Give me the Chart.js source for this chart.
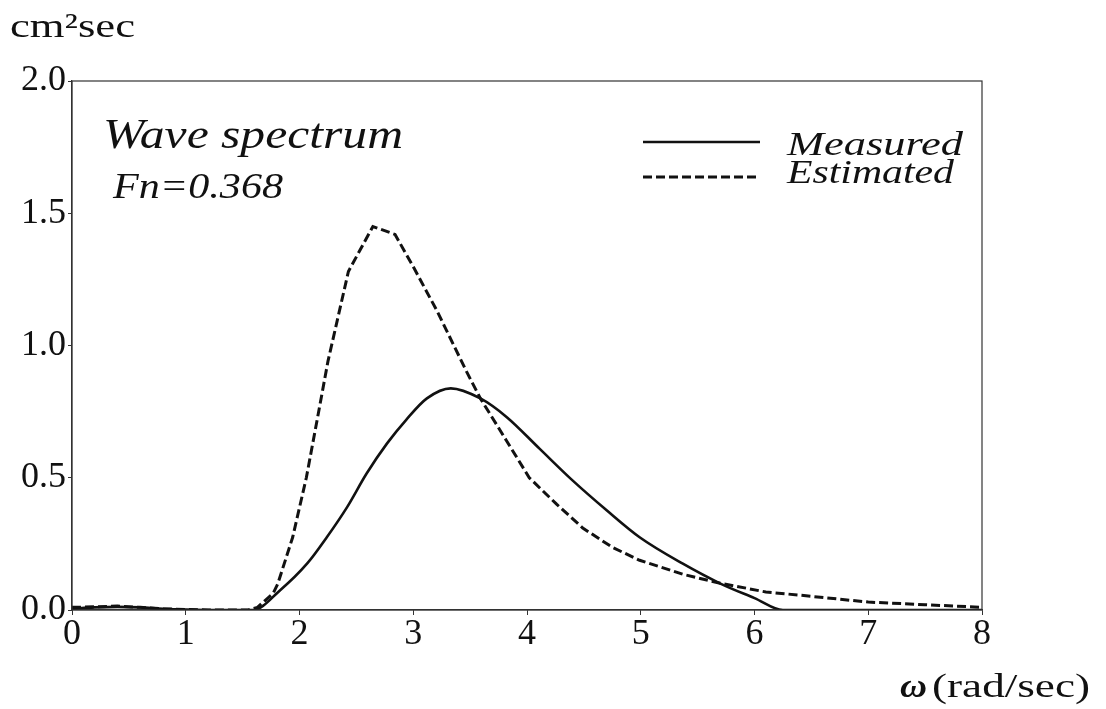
<!DOCTYPE html>
<html>
<head>
<meta charset="utf-8">
<script src="https://cdn.jsdelivr.net/npm/chart.js@4/dist/chart.umd.min.js"></script>
<style>
  html, body { margin: 0; padding: 0; background: #fff; }
  #wrap { width: 1106px; height: 709px; position: relative; }
</style>
</head>
<body>
<div id="wrap"><canvas id="c" width="1106" height="709"></canvas></div>
<script>
// ---- data ----
const xTicks = [0, 1, 2, 3, 4, 5, 6, 7, 8];
const yTicks = [0.0, 0.5, 1.0, 1.5, 2.0];

const measuredX = [0, 0.2, 0.4, 0.6, 0.8, 1.0, 1.3, 1.59, 1.83, 2.07, 2.24, 2.42, 2.59, 2.77, 2.94, 3.12, 3.33, 3.59, 3.82, 4.11, 4.40, 4.70, 4.99, 5.37, 5.70, 6.0, 6.25, 7.0, 8.0];
const measuredY = [0.005, 0.01, 0.012, 0.01, 0.005, 0.002, 0.0, 0.0, 0.075, 0.177, 0.275, 0.39, 0.516, 0.63, 0.72, 0.80, 0.838, 0.80, 0.73, 0.61, 0.49, 0.377, 0.275, 0.175, 0.10, 0.045, 0.0, 0.0, 0.0];

const estimatedX = [0, 0.2, 0.4, 0.6, 0.8, 1.0, 1.2, 1.55, 1.63, 1.77, 1.81, 1.94, 2.06, 2.16, 2.25, 2.43, 2.645, 2.84, 3.01, 3.21, 3.47, 3.59, 3.82, 4.02, 4.26, 4.49, 4.75, 4.99, 5.37, 5.67, 6.1, 6.4, 7.0, 7.5, 8.0];
const estimatedY = [0.01, 0.012, 0.015, 0.01, 0.005, 0.002, 0.0, 0.0, 0.01, 0.064, 0.10, 0.275, 0.50, 0.73, 0.94, 1.28, 1.45, 1.42, 1.29, 1.13, 0.90, 0.80, 0.64, 0.50, 0.40, 0.31, 0.237, 0.188, 0.135, 0.104, 0.068, 0.056, 0.03, 0.02, 0.01];

const seriesNames = ['Measured', 'Estimated'];
const titleText = 'Wave spectrum';
const subtitleText = 'Fn=0.368';
const yUnitText = 'cm\u00B2sec';
const xUnitOmega = '\u03C9';
const xUnitText = '(rad/sec)';

const toPts = (xs, ys) => xs.map((x, i) => ({ x: x, y: ys[i] }));

const SERIF = '"Liberation Serif", serif';

// draw text so that it spans a given width (the reference type is horizontally wide)
function fitText(ctx, text, x, y, font, width) {
  ctx.save();
  ctx.font = font;
  ctx.fillStyle = '#111';
  ctx.textBaseline = 'alphabetic';
  ctx.textAlign = 'left';
  const w = ctx.measureText(text).width;
  ctx.translate(x, y);
  ctx.scale(width / w, 1);
  ctx.fillText(text, 0, 0);
  ctx.restore();
}

const annotations = {
  id: 'annotations',
  afterDraw(chart) {
    const ctx = chart.ctx;
    const a = chart.chartArea;
    ctx.save();
    ctx.strokeStyle = '#333';
    ctx.lineWidth = 1.2;
    ctx.strokeRect(a.left, a.top, a.right - a.left, a.bottom - a.top);
    ctx.restore();

    fitText(ctx, yUnitText, 10, 37, '33px ' + SERIF, 125);
    fitText(ctx, titleText, 103, 148, 'italic 42px ' + SERIF, 300);
    fitText(ctx, subtitleText, 113, 198, 'italic 35px ' + SERIF, 170);

    const ds = chart.data.datasets;
    const rows = [{ y: 142, ty: 155, w: 176 }, { y: 177, ty: 183, w: 167 }];
    rows.forEach((r, i) => {
      ctx.save();
      ctx.strokeStyle = '#111';
      ctx.lineWidth = ds[i].borderWidth;
      ctx.setLineDash(ds[i].borderDash || []);
      ctx.beginPath();
      ctx.moveTo(643, r.y);
      ctx.lineTo(760, r.y);
      ctx.stroke();
      ctx.restore();
      fitText(ctx, seriesNames[i], 787, r.ty, 'italic 34px ' + SERIF, r.w);
    });

    fitText(ctx, xUnitOmega, 900, 697, 'italic bold 33px ' + SERIF, 27);
    fitText(ctx, xUnitText, 932, 697, '33px ' + SERIF, 158);
  }
};

new Chart(document.getElementById('c'), {
  type: 'line',
  data: {
    datasets: [
      {
        label: seriesNames[0],
        data: toPts(measuredX, measuredY),
        borderColor: '#111',
        borderWidth: 2.6,
        pointRadius: 0,
        cubicInterpolationMode: 'monotone',
        fill: false
      },
      {
        label: seriesNames[1],
        data: toPts(estimatedX, estimatedY),
        borderColor: '#111',
        borderWidth: 3,
        borderDash: [9, 4],
        pointRadius: 0,
        tension: 0,
        fill: false
      }
    ]
  },
  options: {
    responsive: false,
    animation: false,
    devicePixelRatio: 1,
    layout: { padding: { left: 0, top: 81, right: 124, bottom: 49 } },
    plugins: { legend: { display: false }, tooltip: { enabled: false } },
    scales: {
      x: {
        type: 'linear',
        min: 0, max: 8,
        afterBuildTicks: s => { s.ticks = xTicks.map(v => ({ value: v })); },
        afterFit: s => { s.height = 50; },
        grid: { display: true, drawOnChartArea: false, drawTicks: true, tickLength: 5, color: '#333' },
        border: { display: true, color: '#333', width: 1.2 },
        ticks: {
          color: '#111', padding: -2,
          font: { family: SERIF, size: 36 },
          callback: v => String(v)
        }
      },
      y: {
        type: 'linear',
        min: 0, max: 2,
        afterBuildTicks: s => { s.ticks = yTicks.map(v => ({ value: v })); },
        afterFit: s => { s.width = 72; },
        grid: { display: true, drawOnChartArea: false, drawTicks: true, tickLength: 4, color: '#333' },
        border: { display: true, color: '#333', width: 1.2 },
        ticks: {
          color: '#111', padding: 2,
          font: { family: SERIF, size: 36 },
          callback: v => v.toFixed(1)
        }
      }
    }
  },
  plugins: [annotations]
});
</script>
</body>
</html>
